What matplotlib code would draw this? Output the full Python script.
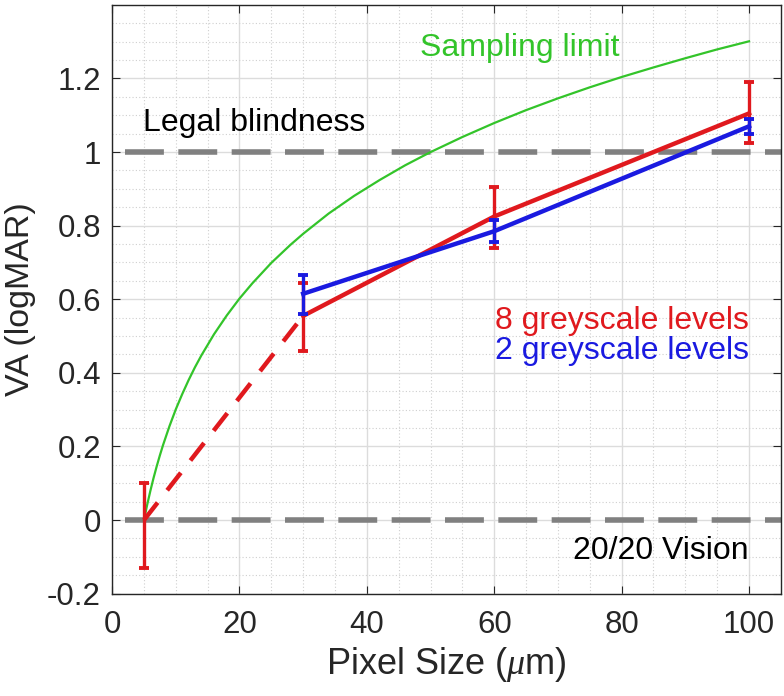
import matplotlib
matplotlib.use('Agg')
import matplotlib.pyplot as plt
from matplotlib.ticker import MultipleLocator

plt.rcParams['font.family'] = ['Liberation Sans', 'DejaVu Sans']
plt.rcParams['mathtext.fontset'] = 'custom'
plt.rcParams['mathtext.it'] = 'Liberation Serif:italic'

# sampling limit curve
samp_x = [5, 5.5, 6, 6.5, 7, 7.5, 8, 9, 10, 11, 12, 13, 14, 16, 18, 20, 22,
          25, 28, 30, 34, 38, 42, 46, 50, 55, 60, 65, 70, 75, 80, 85, 90, 95, 100]
samp_y = [0.0, 0.041, 0.079, 0.114, 0.146, 0.176, 0.204, 0.255, 0.301, 0.342,
          0.38, 0.415, 0.447, 0.505, 0.556, 0.602, 0.643, 0.699, 0.748, 0.778,
          0.833, 0.881, 0.924, 0.964, 1.0, 1.041, 1.079, 1.114, 1.146, 1.176,
          1.204, 1.23, 1.255, 1.279, 1.301]

# 8 greyscale levels
red_x = [5, 30, 60, 100]
red_y = [0.0, 0.555, 0.825, 1.105]
red_lo = [0.13, 0.095, 0.085, 0.08]
red_hi = [0.10, 0.09, 0.08, 0.085]

# 2 greyscale levels
blue_x = [30, 60, 100]
blue_y = [0.615, 0.785, 1.07]
blue_lo = [0.055, 0.03, 0.02]
blue_hi = [0.05, 0.03, 0.02]

red = '#e0191e'
blue = '#1a1ae0'
green = '#33c42a'
dark = '#262626'

fig = plt.figure(figsize=(7.84, 6.96), dpi=100)
ax = fig.add_axes([0.143, 0.147, 0.853, 0.846])

# reference lines
ax.plot([2, 105], [1, 1], color='#808080', lw=4, dashes=(7, 2.6), zorder=2)
ax.plot([2, 105], [0, 0], color='#808080', lw=4, dashes=(7, 2.6), zorder=2)

ax.plot(samp_x, samp_y, color=green, lw=1.6, zorder=3)

# red: dashed first segment, solid rest
ax.plot(red_x[:2], red_y[:2], color=red, lw=3.2, dashes=(5, 3.5), zorder=4)
ax.plot(red_x[1:], red_y[1:], color=red, lw=3.2, zorder=4)
ax.errorbar(red_x, red_y, yerr=[red_lo, red_hi], fmt='none', ecolor=red,
            elinewidth=2.4, capsize=3.5, capthick=2.8, zorder=4)

ax.plot(blue_x, blue_y, color=blue, lw=3.2, zorder=5)
ax.errorbar(blue_x, blue_y, yerr=[blue_lo, blue_hi], fmt='none', ecolor=blue,
            elinewidth=2.4, capsize=3.5, capthick=2.8, zorder=5)

ax.set_xlim(0, 105)
ax.set_ylim(-0.2, 1.4)
ax.xaxis.set_major_locator(MultipleLocator(20))
ax.xaxis.set_minor_locator(MultipleLocator(5))
ax.yaxis.set_minor_locator(MultipleLocator(0.05))
ax.set_yticks([-0.2, 0, 0.2, 0.4, 0.6, 0.8, 1, 1.2])
ax.set_yticklabels(['-0.2', '0', '0.2', '0.4', '0.6', '0.8', '1', '1.2'])

ax.grid(which='major', color='#dcdcdc', lw=1.0)
ax.grid(which='minor', color='#cfcfcf', lw=0.8, linestyle=(0, (1, 2)))
ax.set_axisbelow(True)

ax.tick_params(which='both', direction='in', top=True, right=True,
               labelsize=22.5, colors=dark, length=6)
ax.tick_params(axis='y', pad=8)
ax.tick_params(axis='x', pad=12)
ax.tick_params(which='minor', length=0)
for s in ax.spines.values():
    s.set_color(dark)
    s.set_linewidth(1.0)

ax.set_xlabel(r'Pixel Size ($\mathit{\mu}$m)', fontsize=26, color=dark,
              labelpad=3)
ax.set_ylabel('VA (logMAR)', fontsize=24.5, color=dark, labelpad=8)

ax.text(48.3, 1.283, 'Sampling limit', color=green, fontsize=23, va='center')
ax.text(4.9, 1.08, 'Legal blindness', color='black', fontsize=23, va='center')
ax.text(100, 0.541, '8 greyscale levels', color=red, fontsize=23,
        va='center', ha='right')
ax.text(100, 0.46, '2 greyscale levels', color=blue, fontsize=23,
        va='center', ha='right')
ax.text(100, -0.085, '20/20 Vision', color='black', fontsize=23,
        va='center', ha='right')

fig.savefig('out.png', dpi=100)
